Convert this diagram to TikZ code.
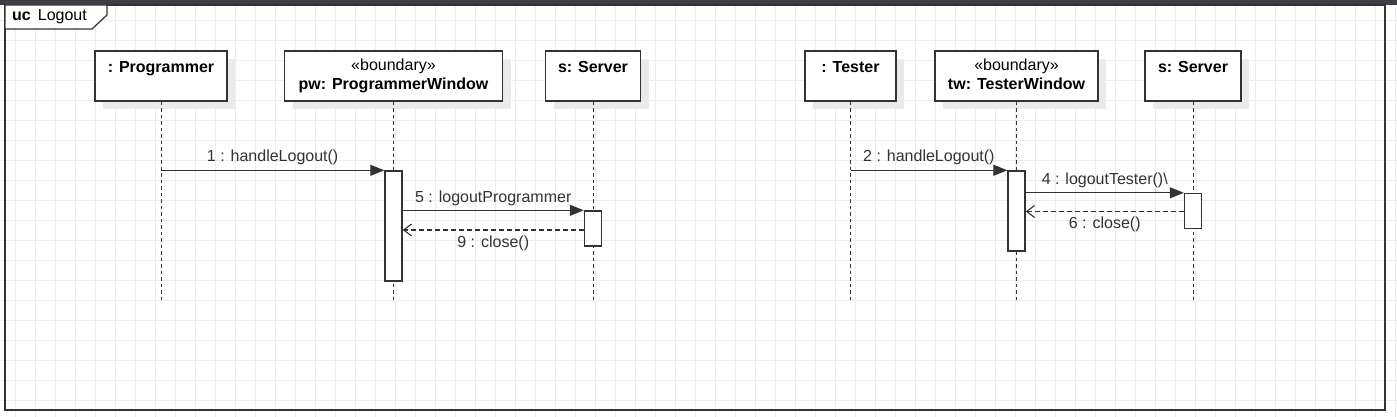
\documentclass[tikz,border=0pt]{standalone}
\usepackage{fontspec}
\setmainfont{Liberation Sans}
\usetikzlibrary{arrows.meta,shadows,calc}
\definecolor{ln}{HTML}{333333}
\definecolor{gridc}{HTML}{EDEDED}
\definecolor{barc}{HTML}{3C3F43}
\definecolor{shd}{HTML}{EAEAEA}
\begin{document}
\begin{tikzpicture}[x=1pt,y=-1pt,
  font=\fontsize{16}{19}\selectfont,
  obj/.style={draw=ln, line width=1.4pt, fill=white,
    general shadow={fill=shd, shadow xshift=8pt, shadow yshift=-8pt},
    minimum height=50pt, inner sep=0pt, align=center,
    text height=34pt, text depth=6pt},
  single/.style={obj, text height=36pt, text depth=4pt},
  act/.style={draw=ln, line width=1.4pt, fill=white, minimum width=17pt, inner sep=0pt},
  life/.style={draw=ln, line width=1pt, dash pattern=on 3.5pt off 3pt},
  msg/.style={draw=ln, line width=1.3pt, -{Triangle[length=14pt,width=11pt]}},
  ret/.style={draw=ln, line width=1.3pt, dash pattern=on 5pt off 3pt,
    -{Straight Barb[length=8pt,width=12pt,line width=1.1pt]}},
  mlbl/.style={text=ln, inner sep=0pt}
]
\useasboundingbox (0,0) rectangle (1397,417);
\fill[white] (0,0) rectangle (1397,417);
% grid
\foreach \x in {15,35,...,1395} \draw[gridc, line width=1pt] (\x+0.5,0) -- (\x+0.5,417);
\foreach \y in {21,41,...,401} \draw[gridc, line width=1pt] (0,\y-0.3) -- (1397,\y-0.3);
% top bar
\fill[barc] (0,0) rectangle (1397,5);
% frame
\draw[ln, line width=1.4pt] (5,5) rectangle (1385,410);
\draw[ln, line width=1.2pt, fill=white] (5,5) -- (107,5) -- (107,15) -- (92,29) -- (5,29) -- cycle;
\node[anchor=base west, inner sep=0pt, text=black] (hdr) at (12,20.5) {\textbf{uc}\hspace{7pt}Logout};

% lifeline heads
\node[single, minimum width=132pt] (prog) at (161,76) {\textbf{: Programmer}\\\mbox{}};
\node[obj, minimum width=218pt] (pw) at (393.5,76) {«boundary»\\\textbf{pw: ProgrammerWindow}};
\node[single, minimum width=95pt] (srvA) at (593,76) {\textbf{s: Server}\\\mbox{}};
\node[single, minimum width=91pt] (tester) at (850.5,76) {\textbf{: Tester}\\\mbox{}};
\node[obj, minimum width=163pt] (tw) at (1016.5,76) {«boundary»\\\textbf{tw: TesterWindow}};
\node[single, minimum width=96pt] (srvB) at (1193,76) {\textbf{s: Server}\\\mbox{}};

% lifeline ends
\coordinate (progE) at (161,300);
\coordinate (pwE) at (393.5,300);
\coordinate (srvAE) at (593,300);
\coordinate (testerE) at (850.5,300);
\coordinate (twE) at (1016.5,300);
\coordinate (srvBE) at (1193,300);
\draw[life] (prog.south) -- (progE);
\draw[life] (pw.south) -- (pwE);
\draw[life] (srvA.south) -- (srvAE);
\draw[life] (tester.south) -- (testerE);
\draw[life] (tw.south) -- (twE);
\draw[life] (srvB.south) -- (srvBE);

% activations
\node[act, minimum height=110pt] (pwA) at (393.5,226) {};
\node[act, minimum height=35pt] (srvAA) at (593,228.5) {};
\node[act, minimum height=80pt] (twA) at (1016.5,211) {};
\node[act, minimum height=35pt] (srvBA) at (1193,211) {};

% messages
\draw[msg] (prog |- pwA.north) -- (pwA.north west)
  node[mlbl, midway, yshift=12.5pt] {1 : handleLogout()};
\draw[msg] (pwA.east |- srvAA.north) -- (srvAA.north west)
  node[mlbl, midway, yshift=12pt] {5 : logoutProgrammer};
\draw[ret] ($(srvAA.north west)+(0,19.7)$) -- ($(pwA.east |- srvAA.north)+(0,19.7)$)
  node[mlbl, midway, yshift=-13.5pt] {9 : close()};
\draw[msg] (tester |- twA.north) -- (twA.north west)
  node[mlbl, midway, yshift=12.5pt] {2 : handleLogout()};
\draw[msg] (twA.east |- srvBA.north) -- (srvBA.north west)
  node[mlbl, midway, yshift=12pt] {4 : logoutTester()\textbackslash};
\draw[ret] ($(srvBA.north west)+(0,18.7)$) -- ($(twA.east |- srvBA.north)+(0,18.7)$)
  node[mlbl, midway, yshift=-12.5pt] {6 : close()};
\end{tikzpicture}
\end{document}
